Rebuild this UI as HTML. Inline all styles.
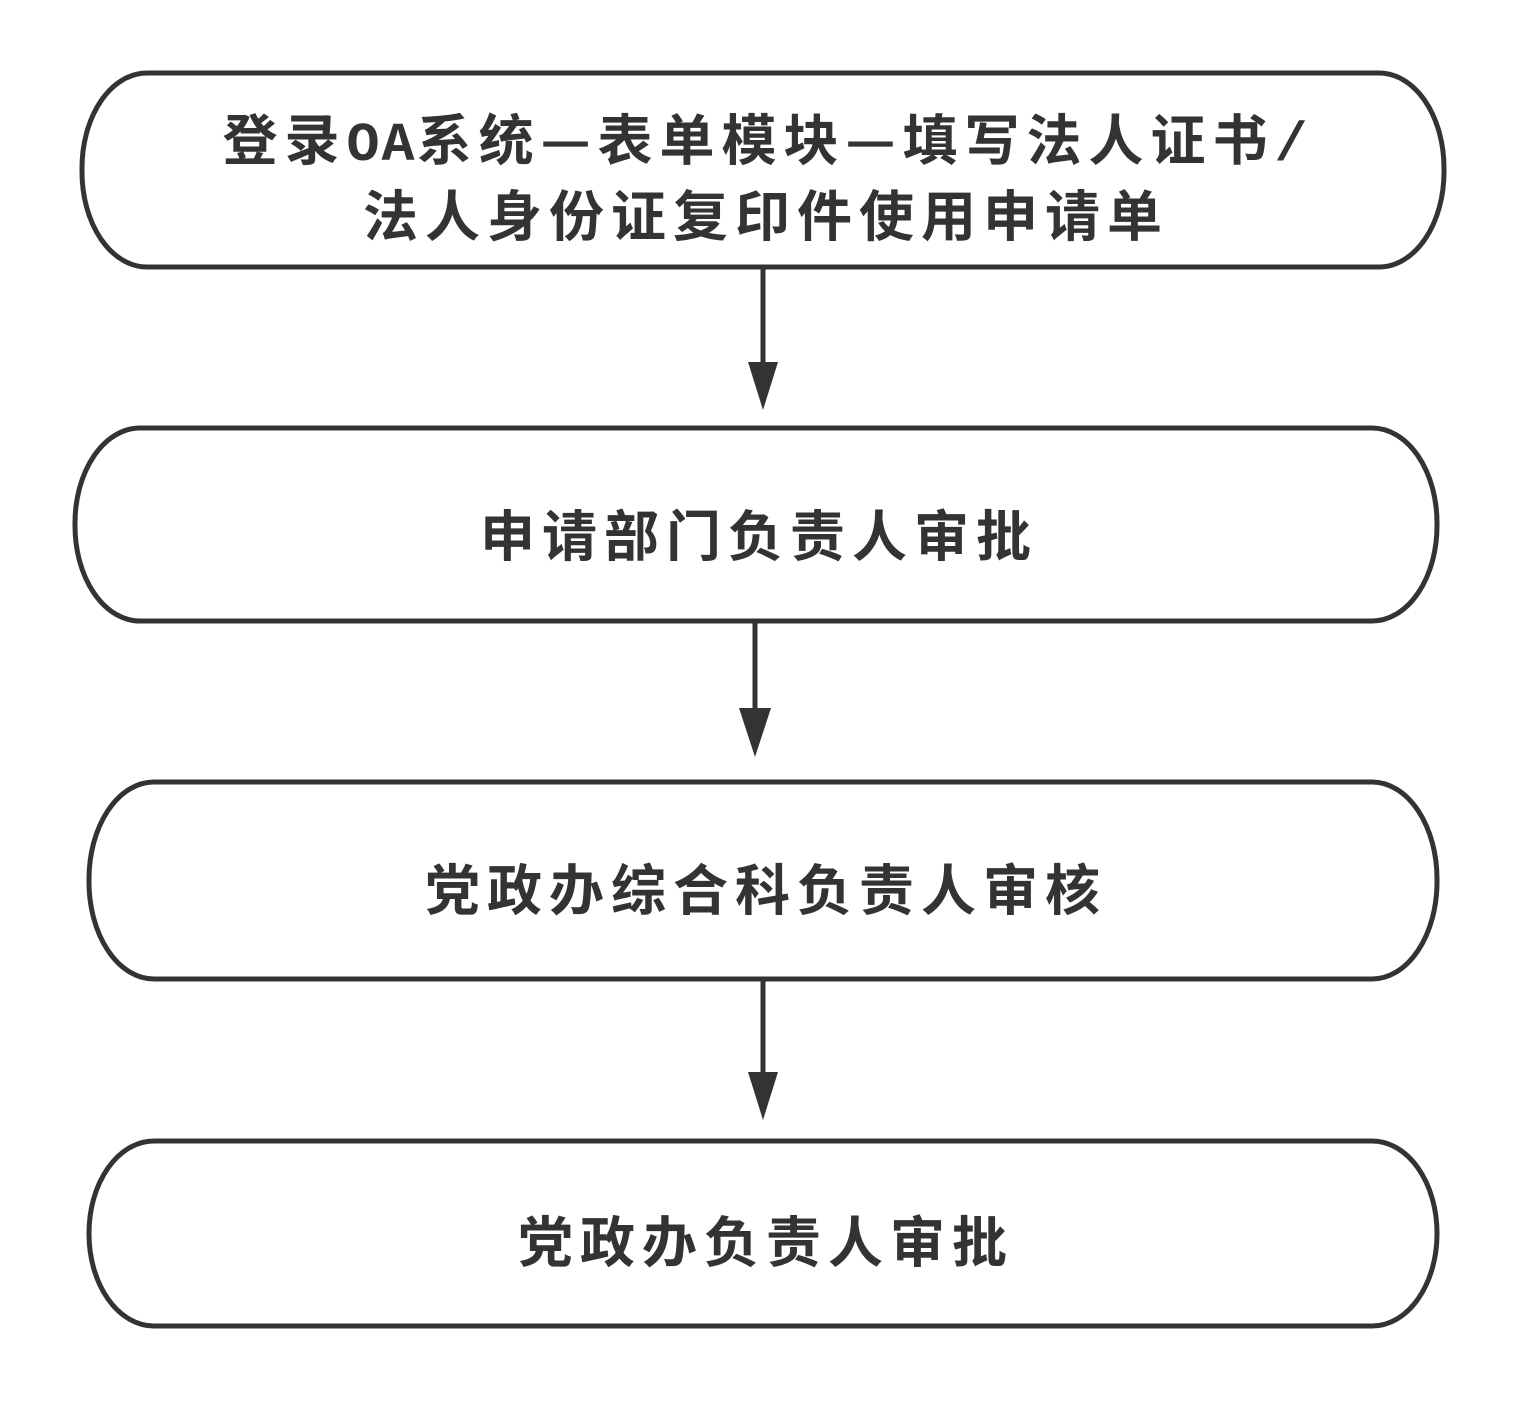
<!DOCTYPE html>
<html><head><meta charset="utf-8"><style>
html,body{margin:0;padding:0;background:#fff}
svg{display:block}
text{font-family:"Noto Sans CJK SC",sans-serif;font-weight:bold;fill:#333;font-size:55px;text-anchor:middle;letter-spacing:7px}
.m{font-family:"Liberation Mono",monospace;letter-spacing:2px}
</style></head><body>
<svg width="1518" height="1401" viewBox="0 0 1518 1401">
<g fill="#fff" stroke="#333" stroke-width="5">
<rect x="82" y="73" width="1362" height="194" rx="65" ry="95"/>
<rect x="75" y="428" width="1362" height="193" rx="65" ry="95"/>
<rect x="89" y="782" width="1348" height="197" rx="65" ry="97"/>
<rect x="89" y="1141" width="1348" height="185" rx="65" ry="92"/>
</g>
<g stroke="#333" stroke-width="5">
<line x1="763" y1="267" x2="763" y2="370"/>
<line x1="755" y1="621" x2="755" y2="715"/>
<line x1="763" y1="979" x2="763" y2="1080"/>
</g>
<g fill="#333">
<polygon points="748,362 778,362 763,410"/>
<polygon points="739,708 771,708 755,757"/>
<polygon points="748,1072 778,1072 763,1120"/>
</g>
<text x="766" y="160">登录<tspan class="m">OA</tspan>系统—表单模块—填写法人证书<tspan class="m">/</tspan></text>
<text x="766" y="236">法人身份证复印件使用申请单</text>
<text x="759" y="556">申请部门负责人审批</text>
<text x="766" y="910">党政办综合科负责人审核</text>
<text x="766" y="1262">党政办负责人审批</text>
</svg>
</body></html>
